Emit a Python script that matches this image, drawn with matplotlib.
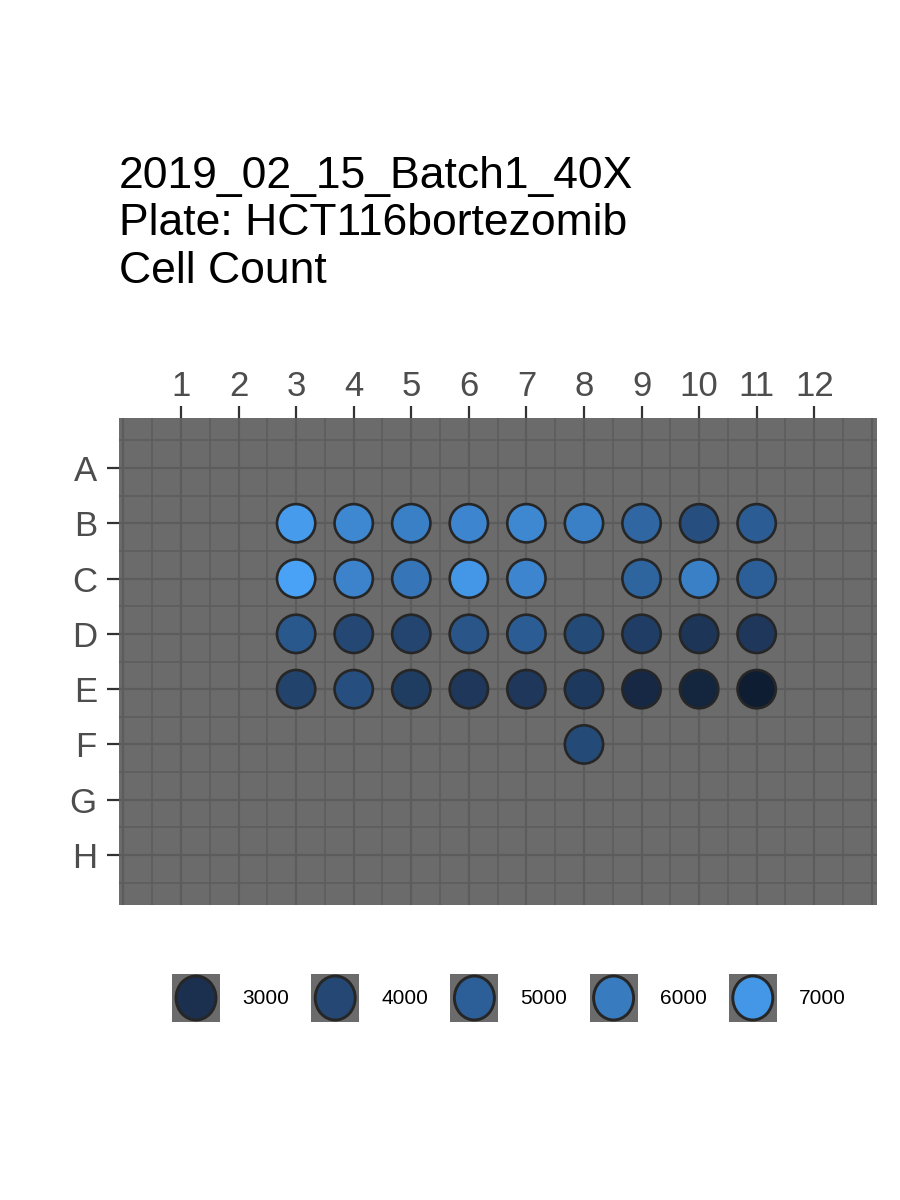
import numpy as np
import matplotlib.pyplot as plt
from matplotlib.colors import LinearSegmentedColormap, Normalize
from matplotlib.patches import Rectangle, Ellipse

plt.rcParams['font.family'] = ['Liberation Sans', 'DejaVu Sans']

## plate layout
rows = ['A', 'B', 'C', 'D', 'E', 'F', 'G', 'H']
cols = list(range(1, 13))

## wells with a cell count (row letter, column, count)
well_row = ['B'] * 9 + ['C'] * 8 + ['D'] * 9 + ['E'] * 9 + ['F']
well_col = [3, 4, 5, 6, 7, 8, 9, 10, 11,
            3, 4, 5, 6, 7, 9, 10, 11,
            3, 4, 5, 6, 7, 8, 9, 10, 11,
            3, 4, 5, 6, 7, 8, 9, 10, 11,
            8]
cell_count = [7200, 6500, 6200, 6400, 6500, 6200, 5300, 4300, 4900,
              7500, 6300, 5800, 7000, 6400, 5200, 6200, 5000,
              4700, 4000, 3900, 4600, 4900, 4100, 3600, 3200, 3300,
              3800, 4300, 3500, 3300, 3300, 3400, 2700, 2600, 2300,
              4100]

legend_breaks = [3000, 4000, 5000, 6000, 7000]

title = "2019_02_15_Batch1_40X\nPlate: HCT116bortezomib\nCell Count"

vmin, vmax = 2200, 7600
anchors = [(2200, '#0d1b2e'), (3000, '#1b3050'), (5000, '#2c5f97'),
           (7000, '#4496e6'), (7600, '#4aa4f7')]
cmap = LinearSegmentedColormap.from_list(
    "gg", [((v - vmin) / (vmax - vmin), c) for v, c in anchors])
norm = Normalize(vmin=vmin, vmax=vmax)

panel_col = '#6b6b6b'
grid_col = '#5c5c5c'
edge_col = '#262626'

fig = plt.figure(figsize=(9, 12), dpi=100)
ax = fig.add_axes([119/900, 1-905/1200, (877-119)/900, (905-418)/1200])
ax.set_facecolor(panel_col)

# grid: lines every half step
for x in np.arange(0, 13.01, 0.5):
    ax.axvline(x, color=grid_col, lw=1.6 if x % 1 == 0 else 1.1, zorder=1)
for y in np.arange(0.5, 8.51, 0.5):
    ax.axhline(y, color=grid_col, lw=1.6 if y % 1 == 0 else 1.1, zorder=1)

ypos = [rows.index(r) + 1 for r in well_row]
ax.scatter(well_col, ypos, c=cell_count, cmap=cmap, norm=norm, s=760,
           edgecolors=edge_col, linewidths=1.9, zorder=3)

ax.set_xlim(-0.077, 13.09)
ax.set_ylim(8.904, 0.096)
ax.set_xticks(cols)
ax.set_xticklabels([str(c) for c in cols])
ax.set_yticks(range(1, 9))
ax.set_yticklabels(rows)
ax.xaxis.tick_top()
ax.tick_params(axis='both', length=9, width=1.6, color='#333333',
               labelsize=25, labelcolor='#4d4d4d')
ax.tick_params(axis='x', pad=2)
ax.tick_params(axis='y', pad=7)
for s in ax.spines.values():
    s.set_visible(False)

fig.text(119/900, 1-156/1200, title, ha='left', va='top', fontsize=32,
         linespacing=1.2, color='black')

# legend
lax = fig.add_axes([0, 1-1040/1200, 1, 80/1200])
lax.set_xlim(0, 900)
lax.set_ylim(1040, 960)
lax.axis('off')
for i, b in enumerate(legend_breaks):
    cx = 196 + i * 139.2
    lax.add_patch(Rectangle((cx - 24, 974), 48, 48, facecolor=panel_col,
                            edgecolor='none'))
    lax.add_patch(Ellipse((cx, 998), 40, 44, facecolor=cmap(norm(b)),
                          edgecolor=edge_col, lw=2.1))
    lax.text(cx + 46, 998, str(b), ha='left', va='center', fontsize=15,
             color='black')

fig.savefig('out.png', dpi=100)
